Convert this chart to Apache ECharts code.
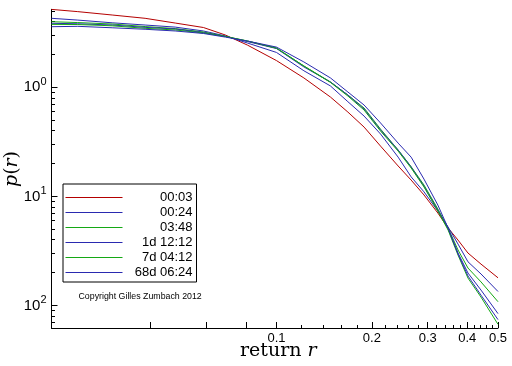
<!DOCTYPE html>
<html>
<head>
<meta charset="utf-8">
<script src="https://cdn.jsdelivr.net/npm/echarts@6/dist/echarts.min.js"></script>
<style>html,body{margin:0;padding:0;background:#fff}#c{width:512px;height:366px}</style>
</head>
<body>
<div id="c"></div>
<script>
// ---- data ----
const seriesNames = ['00:03', '00:24', '03:48', '1d 12:12', '7d 04:12', '68d 06:24'];
const returns = [0.0195, 0.0236, 0.0303, 0.0385, 0.0479, 0.0588, 0.069, 0.081, 0.1, 0.122, 0.148, 0.168, 0.189, 0.213, 0.242, 0.266, 0.292, 0.323, 0.348, 0.374, 0.402, 0.442, 0.5];
const p_0003 = [5.19, 4.95, 4.61, 4.30, 3.89, 3.54, 3.02, 2.44, 1.76, 1.22, 0.815, 0.593, 0.432, 0.289, 0.190, 0.141, 0.103, 0.0703, 0.0512, 0.0397, 0.0302, 0.0239, 0.0179];
const p_0024 = [4.30, 4.14, 3.91, 3.73, 3.57, 3.29, 2.96, 2.55, 2.09, 1.42, 1.03, 0.738, 0.545, 0.373, 0.229, 0.151, 0.110, 0.0733, 0.0523, 0.0365, 0.0251, 0.0194, 0.0134];
const p_0348 = [4.00, 3.93, 3.81, 3.61, 3.46, 3.22, 2.93, 2.66, 2.29, 1.57, 1.12, 0.850, 0.646, 0.414, 0.266, 0.187, 0.127, 0.0765, 0.0512, 0.0322, 0.0220, 0.0164, 0.0108];
const p_1d = [3.87, 3.83, 3.73, 3.55, 3.43, 3.18, 2.93, 2.63, 2.27, 1.54, 1.12, 0.850, 0.632, 0.406, 0.266, 0.186, 0.124, 0.0749, 0.0501, 0.0302, 0.0198, 0.0138, 0.0084];
const p_7d = [3.78, 3.77, 3.67, 3.48, 3.36, 3.15, 2.93, 2.66, 2.29, 1.57, 1.11, 0.832, 0.619, 0.397, 0.260, 0.182, 0.122, 0.0733, 0.0491, 0.0289, 0.0178, 0.0119, 0.0067];
const p_68d = [3.60, 3.63, 3.52, 3.41, 3.29, 3.12, 2.89, 2.66, 2.34, 1.71, 1.22, 0.906, 0.688, 0.471, 0.308, 0.229, 0.144, 0.0832, 0.0512, 0.0296, 0.0186, 0.0124, 0.0074];
const seriesValues = [p_0003, p_0024, p_0348, p_1d, p_7d, p_68d];
const seriesColors = ['#b40000', '#2a2ab0', '#14a814', '#2a2ab0', '#14a814', '#2a2ab0'];

const xMajorTicks = [0.04, 0.06, 0.08, 0.1, 0.2, 0.3, 0.4, 0.5];
const xLabels = [0.1, 0.2, 0.3, 0.4, 0.5];
const xMinorTicks = [0.12, 0.14, 0.16, 0.18, 0.22, 0.24, 0.26, 0.28, 0.32, 0.34, 0.36, 0.38, 0.42, 0.44, 0.46, 0.48];
const yMajorTicks = [0.01, 0.1, 1];
const yMinorTicks = [0.007, 0.008, 0.009, 0.02, 0.03, 0.04, 0.05, 0.06, 0.07, 0.08, 0.09, 0.2, 0.3, 0.4, 0.5, 0.6, 0.7, 0.8, 0.9, 2, 3, 4, 5];
const xRange = [0.0195, 0.5];
const yRange = [0.0062, 5.2];

const SANS = 'Liberation Sans, Arial, sans-serif';
const SERIF = 'DejaVu Serif, serif';

const chart = echarts.init(document.getElementById('c'), null, {renderer: 'canvas'});

const baseAxis = {
  type: 'log', logBase: 10, splitLine: {show: false}, minorTick: {show: false}, minorSplitLine: {show: false}
};

const option = {
  animation: false,
  backgroundColor: '#fff',
  grid: {left: 51.5, right: 14, top: 9.3, bottom: 38, containLabel: false},
  xAxis: [
    Object.assign({}, baseAxis, {
      min: xRange[0], max: xRange[1], position: 'bottom',
      axisLine: {show: true, lineStyle: {color: '#000', width: 1}},
      axisTick: {show: true, inside: true, length: 6, lineStyle: {color: '#000'}, customValues: xMajorTicks},
      axisLabel: {show: true, customValues: xLabels, margin: 4, color: '#000', fontSize: 13, fontFamily: SANS,
        formatter: v => String(+v.toPrecision(3))}
    }),
    Object.assign({}, baseAxis, {
      min: xRange[0], max: xRange[1], position: 'bottom', offset: 0,
      axisLine: {show: false},
      axisTick: {show: true, inside: true, length: 3, lineStyle: {color: '#000'}, customValues: xMinorTicks},
      axisLabel: {show: false}
    })
  ],
  yAxis: [
    Object.assign({}, baseAxis, {
      min: yRange[0], max: yRange[1], position: 'left',
      axisLine: {show: true, lineStyle: {color: '#000', width: 1}},
      axisTick: {show: true, inside: true, length: 6, lineStyle: {color: '#000'}, customValues: yMajorTicks},
      axisLabel: {show: true, customValues: yMajorTicks, margin: 5, color: '#000',
        formatter: v => '{b|10}{s|' + Math.round(Math.abs(Math.log10(v))) + '}',
        rich: {
          b: {fontSize: 15, fontFamily: SANS, color: '#000'},
          s: {fontSize: 11, fontFamily: SANS, color: '#000', padding: [0, 0, 10, 0]}
        }
      }
    }),
    Object.assign({}, baseAxis, {
      min: yRange[0], max: yRange[1], position: 'left', offset: 0,
      axisLine: {show: false},
      axisTick: {show: true, inside: true, length: 3.5, lineStyle: {color: '#000'}, customValues: yMinorTicks},
      axisLabel: {show: false}
    })
  ],
  legend: {
    orient: 'vertical', left: 63, top: 184,
    padding: [7, 4, 3, 2], itemGap: 2, itemWidth: 57, itemHeight: 13,
    itemStyle: {opacity: 0},
    lineStyle: {width: 1},
    borderColor: '#000', borderWidth: 1, backgroundColor: '#fff',
    formatter: name => '{t|' + name + '}',
    textStyle: {color: '#000', rich: {t: {width: 65, height: 13, lineHeight: 13, align: 'right', fontSize: 13, fontFamily: SANS, color: '#000'}}},
    data: seriesNames
  },
  series: seriesNames.map((name, i) => ({
    name: name, type: 'line', xAxisIndex: 0, yAxisIndex: 0,
    showSymbol: false, symbol: 'none', smooth: false,
    lineStyle: {color: seriesColors[i], width: 1},
    itemStyle: {color: seriesColors[i]},
    data: returns.map((r, k) => [r, seriesValues[i][k]])
  })),
  graphic: [
    {type: 'text', x: 240, y: 351,
      style: {text: '{a|return }{i|r}', verticalAlign: 'middle', align: 'left',
        rich: {a: {fontSize: 19, fontFamily: SERIF, fill: '#000'}, i: {fontSize: 19, fontFamily: SERIF, fontStyle: 'italic', fill: '#000'}}}},
    {type: 'text', x: 12, y: 169, rotation: Math.PI / 2,
      style: {text: '{i|p}{a|(}{i|r}{a|)}', verticalAlign: 'middle', align: 'center',
        rich: {a: {fontSize: 19, fontFamily: SERIF, fill: '#000'}, i: {fontSize: 19, fontFamily: SERIF, fontStyle: 'italic', fill: '#000'}}}},
    {type: 'text', x: 78.5, y: 297,
      style: {text: 'Copyright Gilles Zumbach 2012', verticalAlign: 'middle', align: 'left', fontSize: 8.8, fontFamily: SANS, fill: '#000'}}
  ]
};
chart.setOption(option);
</script>
</body>
</html>
